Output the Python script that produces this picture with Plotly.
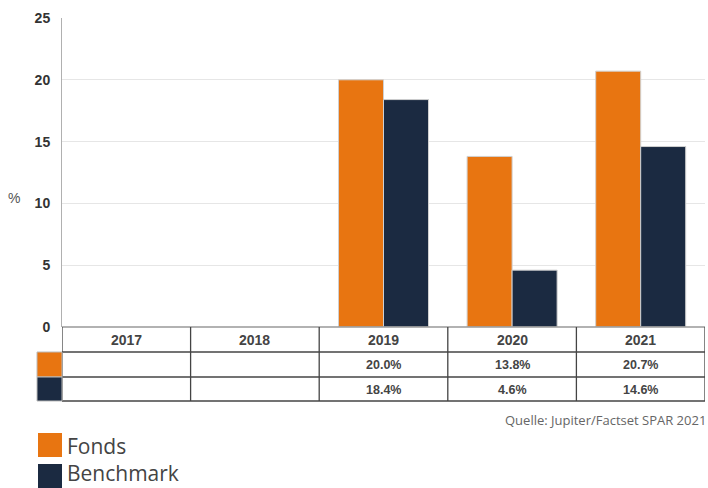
import plotly.graph_objects as go

years = ["2017", "2018", "2019", "2020", "2021"]
fonds = [None, None, 20.0, 13.8, 20.7]
bench = [None, None, 18.4, 4.6, 14.6]
fonds_lbl = ["", "", "20.0%", "13.8%", "20.7%"]
bench_lbl = ["", "", "18.4%", "4.6%", "14.6%"]
series_names = ["Fonds", "Benchmark"]
source = "Quelle: Jupiter/Factset SPAR 2021"

ORANGE = "#E87511"
NAVY = "#1B2A41"

W, H = 708, 488
L, R, T, B = 62, 705, 18, 327
PW, PH = R - L, B - T

def py(p):
    return (B - p) / PH

def px(p):
    return (p - L) / PW

fig = go.Figure()
fig.add_trace(go.Bar(x=years, y=fonds, name=series_names[0], marker=dict(color=ORANGE, line=dict(color="#d0d0d0", width=1))))
fig.add_trace(go.Bar(x=years, y=bench, name=series_names[1], marker=dict(color=NAVY, line=dict(color="#d0d0d0", width=1))))

shapes = []
ann = []
line_c = "#444444"
rows = [327, 352, 377, 401]
for i, yv in enumerate(rows):
    shapes.append(dict(type="line", xref="x", yref="paper", x0=-0.5, x1=len(years) - 0.5,
                       y0=py(yv), y1=py(yv), line=dict(color="#999999" if i == 0 else line_c, width=1.3)))
for i in range(len(years) + 1):
    shapes.append(dict(type="line", xref="x", yref="paper", x0=i - 0.5, x1=i - 0.5,
                       y0=py(327), y1=py(401), line=dict(color=line_c, width=1.3)))
for (y0, y1, c) in [(352, 377, ORANGE), (377, 401, NAVY)]:
    shapes.append(dict(type="rect", xref="paper", yref="paper", x0=px(37), x1=px(62),
                       y0=py(y1), y1=py(y0), fillcolor=c, line=dict(color="#bbbbbb", width=1)))
tfont = dict(family="Liberation Sans, Arial", size=14, color="#444444")
vfont = dict(family="Liberation Sans, Arial", size=12.5, color="#444444")
for i, yr in enumerate(years):
    ann.append(dict(x=i, y=py(340), xref="x", yref="paper", text="<b>%s</b>" % yr, showarrow=False,
                    xanchor="center", yanchor="middle", font=tfont))
    if fonds_lbl[i]:
        ann.append(dict(x=i, y=py(365), xref="x", yref="paper", text="<b>%s</b>" % fonds_lbl[i], showarrow=False,
                        xanchor="center", yanchor="middle", font=vfont))
    if bench_lbl[i]:
        ann.append(dict(x=i, y=py(389.5), xref="x", yref="paper", text="<b>%s</b>" % bench_lbl[i], showarrow=False,
                        xanchor="center", yanchor="middle", font=vfont))
ann.append(dict(x=px(14), y=py(198), xref="paper", yref="paper", text="%", showarrow=False,
                xanchor="center", yanchor="middle",
                font=dict(family="Liberation Sans, Arial", size=14, color="#555555")))
ann.append(dict(x=px(708), y=py(420), xref="paper", yref="paper", text=source, showarrow=False,
                xanchor="right", yanchor="middle", font=dict(family="Open Sans, Noto Sans", size=13, color="#666666")))
for (y0, y1, c, name, dy) in [(433, 457, ORANGE, series_names[0], 1.5), (464, 488, NAVY, series_names[1], -2.5)]:
    shapes.append(dict(type="rect", xref="paper", yref="paper", x0=px(38), x1=px(62),
                       y0=py(y1), y1=py(y0), fillcolor=c, line=dict(width=0)))
    ann.append(dict(x=px(66), y=py((y0 + y1) / 2 + dy), xref="paper", yref="paper", text=name, showarrow=False,
                    xanchor="left", yanchor="middle", borderpad=0,
                    font=dict(family="Open Sans, Noto Sans", size=21, color="#444444")))

fig.update_layout(
    width=W, height=H, margin=dict(l=L, r=W - R, t=T, b=H - B),
    paper_bgcolor="white", plot_bgcolor="white",
    barmode="group", bargap=0.3, bargroupgap=0,
    showlegend=False,
    shapes=shapes, annotations=ann,
    xaxis=dict(type="category", range=[-0.5, 4.5], showticklabels=False, showgrid=False, zeroline=False,
               showline=False, ticks=""),
    yaxis=dict(range=[0, 25], dtick=5, showgrid=True, gridcolor="#e6e6e6", zeroline=False,
               showline=True, linecolor="#b0b0b0", linewidth=1, ticks="", ticklabelstandoff=8,
               tickfont=dict(family="Liberation Sans, Arial", size=14, color="#333333"),
               tickprefix="<b>", ticksuffix="</b>"),
)
fig.write_html("out.html", config={"displayModeBar": False},
               post_script="document.body.style.margin='0px';document.body.style.overflow='hidden';")
